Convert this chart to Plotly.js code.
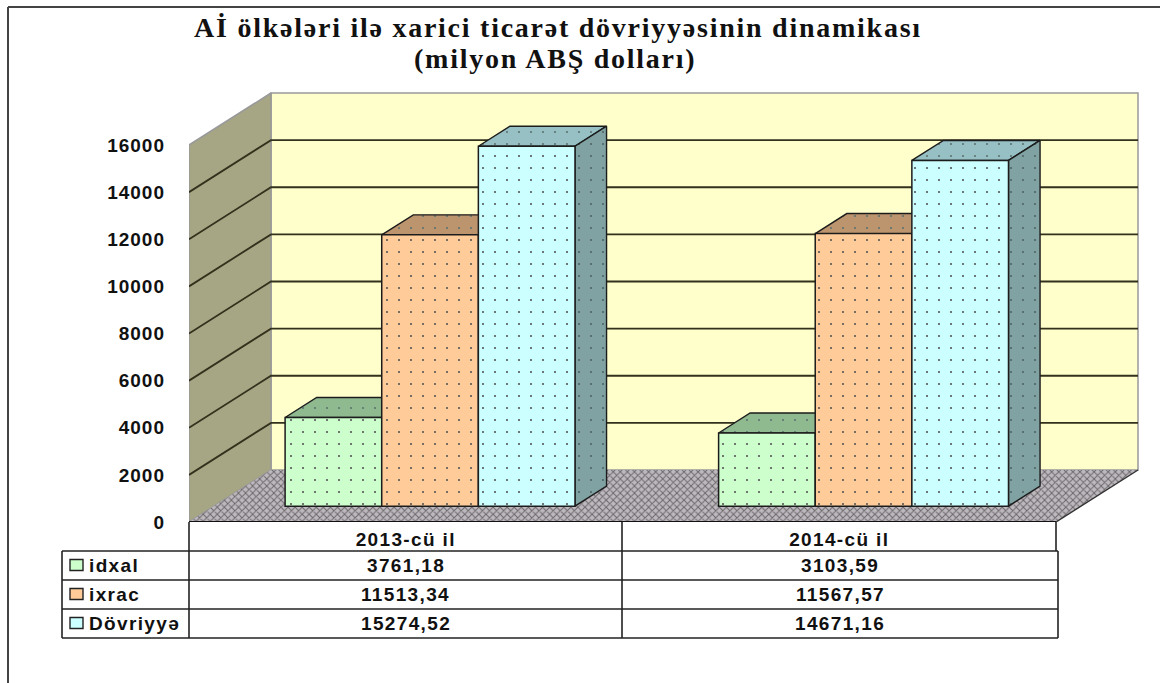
<!DOCTYPE html>
<html>
<head>
<meta charset="utf-8">
<script src="https://cdn.plot.ly/plotly-3.0.1.min.js"></script>
<style>
html,body{margin:0;padding:0;background:#fff;overflow:hidden}
.xtick text,.annotation-text{letter-spacing:1.35px}
.ytick text{letter-spacing:1px}
.gtitle,.annotation[data-index="0"] .annotation-text{letter-spacing:1.75px}
</style>
</head>
<body>
<div id="chart" style="width:1160px;height:683px"></div>
<script>
// ---- data ----
const categories = ["2013-cü il", "2014-cü il"];
const seriesNames = ["idxal", "ixrac", "Dövriyyə"];
const idxal = [3761.18, 3103.59];
const ixrac = [11513.34, 11567.57];
const dovriyye = [15274.52, 14671.16];
const yTicks = [0, 2000, 4000, 6000, 8000, 10000, 12000, 14000, 16000];
const titleLine1 = "<b>Aİ ölkələri ilə xarici ticarət dövriyyəsinin dinamikası</b>";
const titleLine2 = "<b>(milyon ABŞ dolları)</b>";

// ---- styles ----
const frontColors = ["#CCFFCC", "#FFCC99", "#CCFFFF"];
const topColors = ["#8FB98F", "#BC946E", "#96C0C4"];
const sideColors = ["#6F906F", "#90704F", "#80A2A2"];
const INK = "#1c1c1c";
const FONT = "Liberation Sans, Arial, sans-serif";
const SERIF = "Liberation Serif, Times New Roman, serif";

// ---- plot frame in page pixels ----
const W = 1160, H = 683;
const L = 189, R = 1143, T = 90, B = 522;
const catPx = 433.5, pxPerUnit = 377 / 16000;
const depthPx = [82, 52];
const DX = depthPx[0] / catPx, DY = depthPx[1] / pxPerUnit;
const xMin = -0.5, xMax = xMin + (R - L) / catPx, yMax = (B - T) / pxPerUnit;
const px = v => (v - L) / (R - L), py = v => (B - v) / (B - T);

// oblique projection: category position, value, depth 0..1 -> axis coordinates
const proj = (c, v, d) => [c + d * DX, v + d * DY];
function poly(pts, color, pattern, zorder, line) {
  const p = pts.map(a => proj(a[0], a[1], a[2]));
  p.push(p[0]);
  const t = {
    type: "scatter", mode: "lines", x: p.map(a => a[0]), y: p.map(a => a[1]),
    fill: "toself", fillcolor: color, line: line || {color: INK, width: 1.4},
    hoverinfo: "skip", showlegend: false, zorder: zorder, cliponaxis: false
  };
  if (pattern) t.fillpattern = pattern;
  return t;
}
function path(pts, zorder, color, width) {
  const p = pts.map(a => proj(a[0], a[1], a[2]));
  return {type: "scatter", mode: "lines", x: p.map(a => a[0]), y: p.map(a => a[1]),
    line: {color: color, width: width}, hoverinfo: "skip", showlegend: false, zorder: zorder, cliponaxis: false};
}

const cEnd = xMin + 2, yTop = yTicks[yTicks.length - 1];
const traces = [];
const grey = {color: "#999999", width: 1.5};
// back wall, left wall, floor
traces.push(poly([[xMin,0,1],[cEnd,0,1],[cEnd,yTop,1],[xMin,yTop,1]], "#FFFFCC", null, 0, grey));
traces.push(poly([[xMin,0,0],[xMin,0,1],[xMin,yTop,1],[xMin,yTop,0]], "#A6A684", null, 0, grey));
traces.push(poly([[xMin,0,0],[cEnd,0,0],[cEnd,0,1],[xMin,0,1]], "#B4AEB4",
  {shape: "x", size: 5, solidity: 0.35, fgcolor: "#6a666a", bgcolor: "#BDB8BD"}, 0, {color: "rgba(0,0,0,0)", width: 0}));
// gridlines over both walls
yTicks.slice(1, -1).forEach(v => traces.push(path([[xMin,v,0],[xMin,v,1],[cEnd,v,1]], 0, "#33301c", 1.8)));
traces.push(path([[xMin,0,0],[cEnd,0,0]], 0, "#111111", 1.8));
traces.push(path([[cEnd,0,0],[cEnd,0,1]], 0, "#333333", 1.4));

// bars
const depthFront = 0.305, depthBack = 0.69;
const barW = 0.2229, barStart = -0.336;
const series = [idxal, ixrac, dovriyye];
series.forEach((vals, s) => {
  const off = barStart + s * barW;
  vals.forEach((v, c) => {
    const a = c + off, b = a + barW;
    const dots = (bg, fg) => ({shape: ".", size: 12, solidity: 0.025, fgcolor: fg, bgcolor: bg});
    traces.push(poly([[a,v,depthFront],[b,v,depthFront],[b,v,depthBack],[a,v,depthBack]], topColors[s], dots(topColors[s], "#5d7470"), 1));
    traces.push(poly([[b,0,depthFront],[b,0,depthBack],[b,v,depthBack],[b,v,depthFront]], sideColors[s], dots(sideColors[s], "#4f6565"), 1));
  });
  traces.push({
    type: "bar", name: seriesNames[s], zorder: 2,
    x: vals.map((v, c) => c + depthFront * DX),
    y: vals, base: vals.map(() => depthFront * DY),
    width: barW, offset: off,
    marker: {color: frontColors[s], line: {color: INK, width: 1.5},
      pattern: {shape: ".", size: 12, solidity: 0.025, fgcolor: "#555", bgcolor: frontColors[s]}},
    hoverinfo: "x+y", showlegend: false
  });
});

// ---- data table below the plot ----
const shapes = [], annotations = [];
annotations.push({xref: "paper", yref: "paper", x: px(555), y: py(59), xanchor: "center", yanchor: "middle",
  text: titleLine2, showarrow: false, font: {family: SERIF, size: 28, color: "#111"}});
const seg = (x0, y0, x1, y1, color, width) => shapes.push({type: "line", xref: "paper", yref: "paper",
  x0: px(x0), x1: px(x1), y0: py(y0), y1: py(y1), line: {color: color || "#222", width: width || 1.6}});
const rowLines = [551, 580, 609, 638];
const colLeft = 62, colA = 189, colB = 622, colRight = 1058;
rowLines.forEach(y => seg(colLeft, y, colRight, y));
seg(colLeft, 551, colLeft, 638);
seg(colA, 522, colA, 638);
seg(colB, 522, colB, 638);
seg(1056, 522, 1056, 551);
seg(colRight, 551, colRight, 638);
// outer picture frame
seg(8, 7, W, 7, "#444", 2);
seg(8, 7, 8, H, "#444", 2);

const tableFont = {family: FONT, size: 19, color: "#111"};
const fmt = v => v.toFixed(2).replace(".", ",");
series.forEach((vals, s) => {
  const yc = (rowLines[s] + rowLines[s + 1]) / 2;
  shapes.push({type: "rect", xref: "paper", yref: "paper", x0: px(70), x1: px(83),
    y0: py(yc - 6), y1: py(yc + 5), fillcolor: frontColors[s], line: {color: "#222", width: 1.4}});
  annotations.push({xref: "paper", yref: "paper", x: px(87), y: py(yc), xanchor: "left", yanchor: "middle",
    text: "<b>" + seriesNames[s] + "</b>", showarrow: false, font: tableFont});
  vals.forEach((v, c) => annotations.push({xref: "paper", yref: "paper",
    x: px(c === 0 ? (colA + colB) / 2 : (colB + colRight) / 2), y: py(yc), xanchor: "center", yanchor: "middle",
    text: "<b>" + fmt(v) + "</b>", showarrow: false, font: tableFont}));
});

const layout = {
  width: W, height: H,
  margin: {l: L, r: W - R, t: T, b: H - B, pad: 0},
  paper_bgcolor: "#fff", plot_bgcolor: "rgba(0,0,0,0)",
  showlegend: false, barmode: "overlay",
  title: {text: titleLine1, x: 558 / W, xanchor: "center", y: 1 - 27 / H, yanchor: "middle",
    font: {family: SERIF, size: 28, color: "#111"}},
  xaxis: {range: [xMin, xMax], tickmode: "array", tickvals: [0, 1], ticktext: categories.map(c => "<b>" + c + "</b>"),
    showgrid: false, zeroline: false, showline: false, ticks: "", ticklabelstandoff: 4,
    tickfont: tableFont, fixedrange: true},
  yaxis: {range: [0, yMax], tickmode: "array", tickvals: yTicks, ticktext: yTicks.map(v => "<b>" + v + "</b>"),
    showgrid: false, zeroline: false, showline: false, ticks: "", ticklabelstandoff: 23,
    tickfont: {family: FONT, size: 19, color: "#111"}, fixedrange: true},
  shapes: shapes, annotations: annotations
};
Plotly.newPlot("chart", traces, layout, {displayModeBar: false});
</script>
</body>
</html>
